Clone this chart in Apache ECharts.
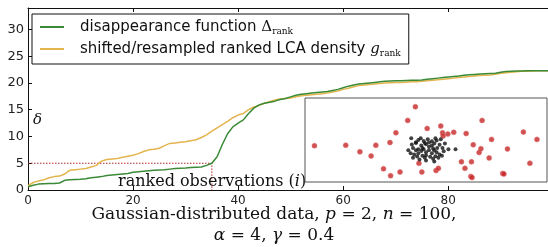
<!DOCTYPE html>
<html><head><meta charset="utf-8">
<script src="https://cdn.jsdelivr.net/npm/echarts@6/dist/echarts.min.js"></script>
<style>html,body{margin:0;padding:0;background:#fff}#c{width:548px;height:247px}</style>
</head><body><div id="c"></div>
<script>
// disappearance function Δ_rank, ranked observations i = 0..99
const delta = [0.6,0.9,1.1,1.15,1.2,1.2,1.3,1.8,1.9,1.95,
  2.0,2.1,2.3,2.4,2.5,2.7,2.8,2.9,3.0,3.1,
  3.3,3.4,3.5,3.6,3.7,3.75,3.8,3.9,4.0,4.05,
  4.1,4.2,4.25,4.3,4.6,5.0,6.2,8.5,10.5,11.8,
  12.5,13.1,14.3,15.3,15.9,16.2,16.4,16.6,16.9,17.1,
  17.4,17.7,17.9,18.0,18.1,18.2,18.3,18.4,18.6,18.8,
  19.1,19.4,19.6,19.8,19.9,20.0,20.1,20.2,20.3,20.35,
  20.4,20.4,20.45,20.5,20.5,20.55,20.7,20.8,20.9,21.0,
  21.1,21.2,21.3,21.45,21.55,21.6,21.65,21.7,21.75,21.8,
  22.0,22.15,22.2,22.25,22.25,22.3,22.3,22.3,22.3,22.3];
// shifted/resampled ranked LCA density g_rank
const gRank = [0.8,1.4,1.7,1.9,2.3,2.5,2.6,3.0,3.7,3.8,
  3.9,4.0,4.3,4.6,5.4,5.7,5.8,5.9,6.1,6.3,
  6.5,6.8,7.2,7.5,7.6,7.8,8.3,8.7,8.8,8.9,
  9.0,9.2,9.4,9.8,10.3,11.0,11.6,12.2,12.8,13.5,
  14.0,14.3,15.0,15.5,15.8,16.2,16.5,16.8,17.0,17.1,
  17.2,17.4,17.6,17.7,17.8,17.9,18.0,18.1,18.3,18.5,
  18.8,19.0,19.3,19.5,19.6,19.7,19.8,19.9,20.0,20.05,
  20.1,20.1,20.15,20.2,20.2,20.3,20.4,20.5,20.6,20.7,
  20.8,20.9,21.0,21.1,21.2,21.3,21.4,21.45,21.5,21.6,
  21.8,21.9,22.0,22.1,22.2,22.2,22.25,22.3,22.3,22.3];
const xTicks = [0,20,40,60,80];
const yTicks = [0,5,10,15,20,25,30];
const thresholdI = 35;
const thresholdDelta = 5;
// inset scatter: outliers (red) and inliers (black)
const redPoints = [[-1.94,0.09],[-1.41,0.11],[-1.17,-0.16],[-0.98,-0.33],[-0.90,0.11],[-0.77,-0.86],
  [-0.65,-1.14],[-0.66,0.22],[-0.56,0.62],[-0.49,-0.99],[-0.36,1.13],[-0.23,1.69],[-0.17,-0.63],
  [-0.12,-0.99],[-0.03,0.80],[0.12,-0.93],[0.16,-0.84],[0.20,0.90],[0.23,0.62],[0.24,0.49],
  [0.32,0.57],[0.42,0.64],[0.55,-0.57],[0.61,-0.84],[0.63,0.59],[0.72,-0.57],[0.71,-1.17],
  [0.73,-1.22],[0.75,0.13],[0.85,-0.19],[0.88,-0.03],[0.90,1.13],[1.02,-0.41],[1.06,0.35],
  [1.25,-1.05],[1.27,-1.07],[1.33,-0.04],[1.60,0.65],[1.71,-0.63],[1.83,0.35]];
const blackPoints = [[-0.3,0.4],[-0.22,0.2],[-0.18,0.32],[-0.13,0.1],[-0.09,0.28],[-0.05,0.15],[0,0.22],
  [0.05,0.1],[0.09,0.18],[0.13,0.3],[0.18,0.13],[0.23,0.0],[0.33,-0.05],[0.45,-0.05],[-0.27,0.0],
  [-0.22,-0.1],[-0.18,-0.05],[-0.13,-0.13],[-0.09,-0.05],[-0.05,-0.18],[0,-0.1],[0.05,-0.22],[0.09,-0.1],
  [0.13,-0.18],[0.18,-0.27],[-0.25,-0.27],[-0.2,-0.35],[-0.11,-0.32],[-0.07,-0.4],[0.02,-0.36],[0.07,-0.44],
  [0.11,-0.34],[0.16,-0.4],[-0.16,-0.48],[-0.05,-0.52],[-0.31,-0.22],[-0.35,-0.1],[-0.29,0.14],
  [-0.02,0.36],[0.11,0.4],[0.2,0.36],[-0.14,0.4],[0.25,-0.14],[0.27,0.18],[-0.22,0.23],[-0.11,0.0],
  [0.0,0.05],[0.07,-0.02],[-0.05,-0.3],[0.05,0.27],[-0.18,-0.22],[0.14,0.0],[-0.07,0.2],[0.22,-0.32],
  [-0.27,-0.4],[0.09,-0.56]];
const insetXTicks = [-2,-1,0,1];
const insetYTicks = [-1,0,1];

const GREEN = '#3a8a36', ORANGE = '#e4b44e', RED = '#b52a2a';
const nameD = 'delta', nameG = 'grank';
const chart = echarts.init(document.getElementById('c'), null, {renderer: 'canvas'});
const axisLineStyle = {color: '#111', width: 1};
const tickIn = (vals) => ({show: true, inside: true, length: 4, customValues: vals, lineStyle: {color: '#111'}});

chart.setOption({
  animation: false,
  backgroundColor: '#fff',
  grid: [
    {left: 28, top: 8, right: 0, bottom: 57, show: false},
    {left: 305, top: 98, width: 242, height: 84, show: true, backgroundColor: '#fff', borderColor: '#555', borderWidth: 1, z: 5}
  ],
  xAxis: [
    {gridIndex: 0, type: 'value', min: 0, max: 99, position: 'bottom',
     axisLine: {show: true, onZero: false, lineStyle: axisLineStyle}, axisTick: tickIn(xTicks),
     axisLabel: {customValues: xTicks, color: '#222', fontFamily: 'DejaVu Sans', fontSize: 12, margin: 5},
     splitLine: {show: false}},
    {gridIndex: 0, type: 'value', min: 0, max: 99, position: 'top',
     axisLine: {show: true, onZero: false, lineStyle: axisLineStyle}, axisTick: tickIn(xTicks),
     axisLabel: {show: false}, splitLine: {show: false}},
    {gridIndex: 1, type: 'value', min: -2.1, max: 2, position: 'bottom',
     axisLine: {show: false, onZero: false}, axisTick: tickIn(insetXTicks),
     axisLabel: {show: false}, splitLine: {show: false}},
    {gridIndex: 1, type: 'value', min: -2.1, max: 2, position: 'top',
     axisLine: {show: false, onZero: false}, axisTick: tickIn(insetXTicks),
     axisLabel: {show: false}, splitLine: {show: false}}
  ],
  yAxis: [
    {gridIndex: 0, type: 'value', min: 0, max: 34,
     axisLine: {show: true, onZero: false, lineStyle: axisLineStyle}, axisTick: tickIn(yTicks),
     axisLabel: {customValues: yTicks, color: '#222', fontFamily: 'DejaVu Sans', fontSize: 13, margin: 4},
     splitLine: {show: false}},
    {gridIndex: 1, type: 'value', min: -1.4, max: 2.05, position: 'left',
     axisLine: {show: false, onZero: false}, axisTick: tickIn(insetYTicks),
     axisLabel: {show: false}, splitLine: {show: false}},
    {gridIndex: 1, type: 'value', min: -1.4, max: 2.05, position: 'right',
     axisLine: {show: false, onZero: false}, axisTick: tickIn(insetYTicks),
     axisLabel: {show: false}, splitLine: {show: false}}
  ],
  legend: {
    data: [nameD, nameG],
    orient: 'vertical', left: 32, top: 14,
    padding: [4, 8, 6, 8], itemGap: 4,
    itemWidth: 24, itemHeight: 2, icon: 'rect',
    backgroundColor: '#fff', borderColor: '#111', borderWidth: 1, borderRadius: 0,
    selectedMode: false,
    textStyle: {fontFamily: 'DejaVu Sans', fontSize: 15, color: '#111', lineHeight: 18, padding: [0, 0, 0, 11],
      rich: {
        m: {fontFamily: 'DejaVu Serif', fontSize: 15, color: '#111', lineHeight: 18},
        mi: {fontFamily: 'DejaVu Serif', fontStyle: 'italic', fontSize: 15, color: '#111', lineHeight: 18},
        s: {fontFamily: 'DejaVu Serif', fontSize: 9, color: '#111', lineHeight: 18, verticalAlign: 'bottom', padding: [6, 0, 0, 0]}
      }},
    formatter: (n) => n === nameD ? 'disappearance function {m|Δ}{s|rank}' : 'shifted/resampled ranked LCA density {mi|g}{s|rank}'
  },
  title: {
    text: '{t|Gaussian-distributed data, }{i|p}{t| = 2, }{i|n}{t| = 100,}\n{i|α}{t| = 4, }{i|γ}{t| = 0.4}',
    left: 'center', top: 204, padding: 0,
    textStyle: {fontFamily: 'DejaVu Serif', fontSize: 17, fontWeight: 'normal', color: '#111', lineHeight: 21,
      rich: {
        t: {fontFamily: 'DejaVu Serif', fontSize: 17, color: '#111', lineHeight: 21},
        i: {fontFamily: 'DejaVu Serif', fontStyle: 'italic', fontSize: 17, color: '#111', lineHeight: 21}
      }}
  },
  graphic: [
    {type: 'text', left: 33, top: 113, style: {text: 'δ', font: 'italic 15px "DejaVu Serif"', fill: '#111'}},
    {type: 'text', left: 118, top: 174, z: 3,
     style: {text: '{t|ranked observations (}{i|i}{t|)}', rich: {
       t: {fontFamily: 'DejaVu Serif', fontSize: 16, fill: '#111'},
       i: {fontFamily: 'DejaVu Serif', fontStyle: 'italic', fontSize: 16, fill: '#111'}}}}
  ],
  series: [
    {name: nameD, type: 'line', xAxisIndex: 0, yAxisIndex: 0, showSymbol: false, z: 3,
     data: delta.map((v, i) => [i, v]), lineStyle: {color: GREEN, width: 1.5}, itemStyle: {color: GREEN}},
    {name: nameG, type: 'line', xAxisIndex: 0, yAxisIndex: 0, showSymbol: false, z: 2,
     data: gRank.map((v, i) => [i, v]), lineStyle: {color: ORANGE, width: 1.5}, itemStyle: {color: ORANGE}},
    {name: 'threshold', type: 'line', xAxisIndex: 0, yAxisIndex: 0, showSymbol: false, z: 1,
     data: [[0, thresholdDelta], [thresholdI, thresholdDelta], [thresholdI, 0]],
     lineStyle: {color: RED, width: 1, type: [1.5, 1.5]}},
    {name: 'outliers', type: 'scatter', xAxisIndex: 2, yAxisIndex: 1, z: 6, symbolSize: 5,
     data: redPoints, itemStyle: {color: '#c42626', borderColor: 'rgba(225,110,110,0.7)', borderWidth: 1}},
    {name: 'inliers', type: 'scatter', xAxisIndex: 2, yAxisIndex: 1, z: 6, symbolSize: 4,
     data: blackPoints, itemStyle: {color: '#111'}}
  ]
});
</script>
</body></html>
